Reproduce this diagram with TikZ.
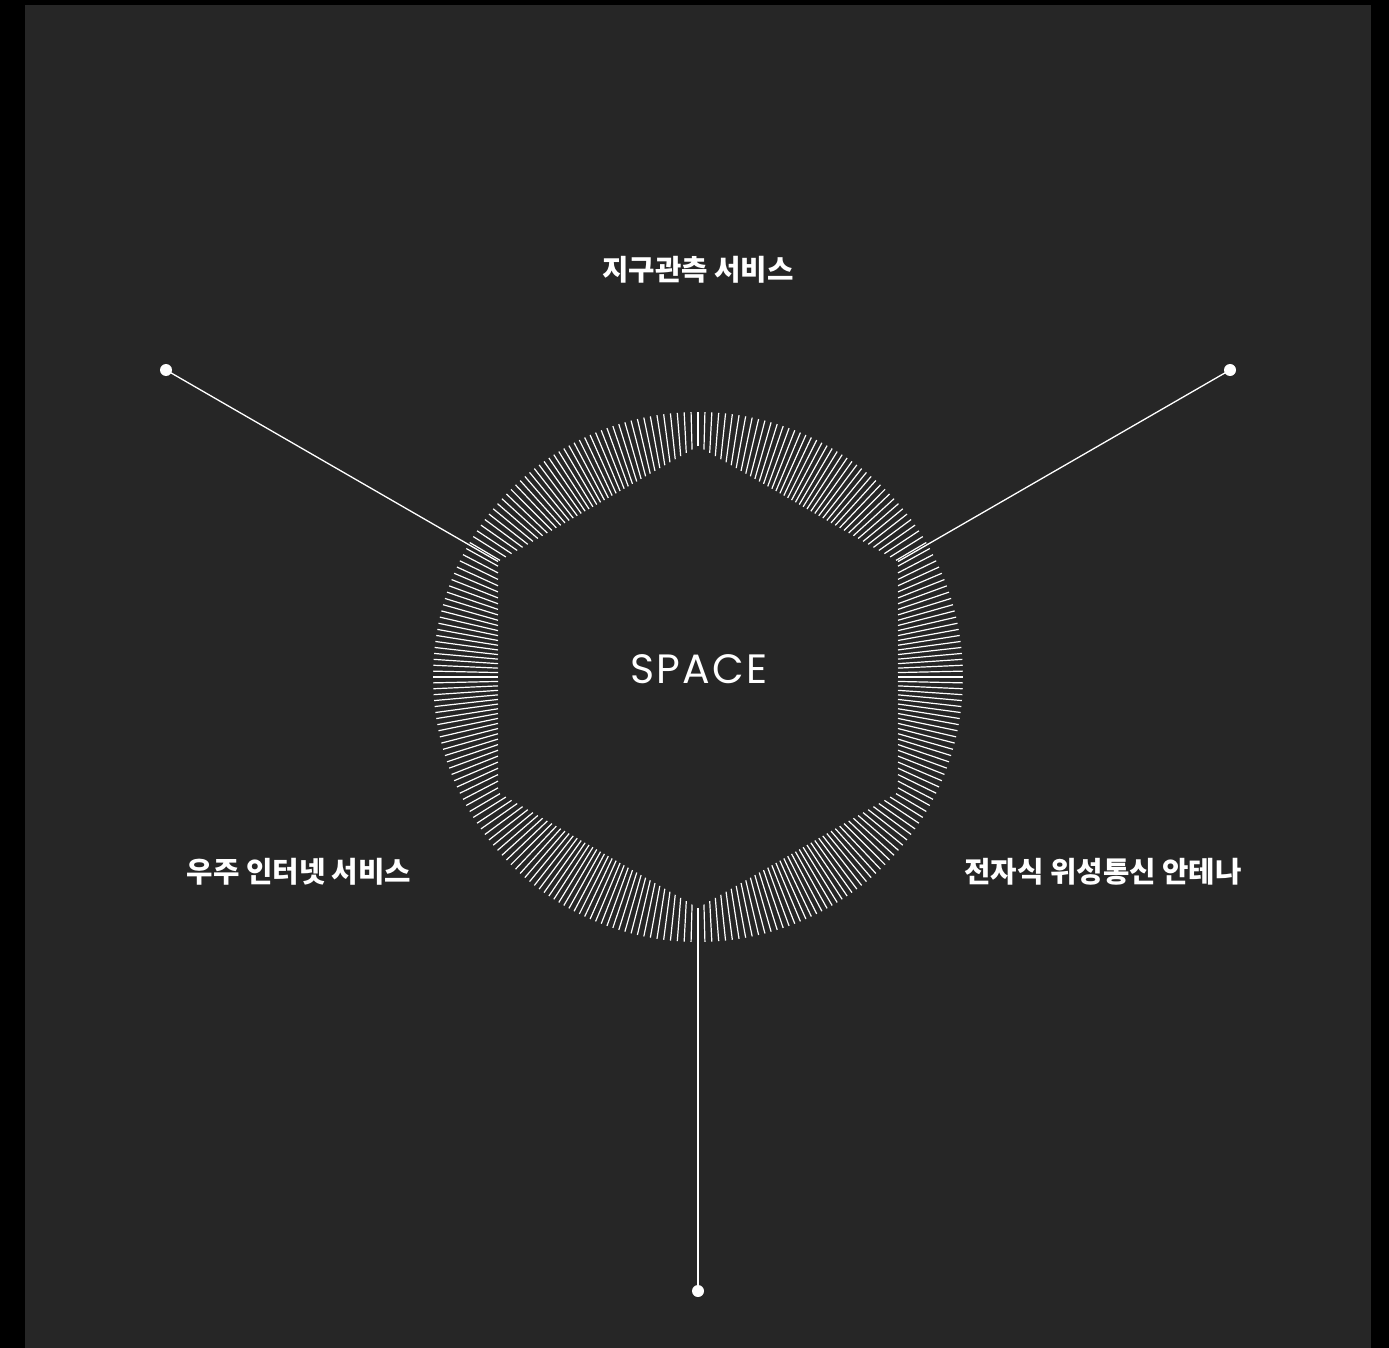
\documentclass[tikz,border=0pt]{standalone}
\usepackage{fontspec}
\newfontfamily\krfont{Noto Sans CJK KR}
\newfontfamily\spacefont[LetterSpace=6]{Poppins}
\usetikzlibrary{calc}
\definecolor{bgray}{HTML}{262626}
\tikzset{
  tick/.style={draw=white, line width=1.2pt},
  conn/.style={draw=white, line width=1.3pt},
  enddot/.style={circle, fill=white, inner sep=0pt, minimum size=12pt},
  label/.style={text=white, font=\krfont\bfseries\fontsize{28.7}{32}\selectfont, inner sep=0pt},
}
\begin{document}
\begin{tikzpicture}[x=1pt, y=-1pt]
\useasboundingbox (0,0) rectangle (1389,1348);
\fill[black] (0,0) rectangle (1389,1348);
\fill[bgray] (25,5) rectangle (1371,1348);
% centre
\node[text=white, font=\spacefont\fontsize{41}{45}\selectfont, inner sep=0pt] (c) at (699,669.5) {SPACE};
% radial ticks
\begin{scope}[shift={(698,677)}]
\foreach \i in {0,...,259} {
  \pgfmathsetmacro\ph{\i*1.3846154}
  \pgfmathsetmacro\th{\ph-0.79*sin(6*\ph)}
  \pgfmathsetmacro\rin{200/cos(mod(\th+30,60)-30)}
  \draw[tick] (\th:\rin) -- (\th:265);
}
\end{scope}
% hexagon vertices where connectors meet
\coordinate (vl) at (498,561.5);
\coordinate (vr) at (898,561.5);
\coordinate (vb) at (698,908);
% end dots
\node[enddot] (dl) at (166,370) {};
\node[enddot] (dr) at (1230,370) {};
\node[enddot] (db) at (698,1291) {};
\draw[conn] (dl.center) -- (vl);
\draw[conn] (dr.center) -- (vr);
\draw[conn] (db.center) -- (vb);
% labels
\node[label] (t1) at (698,270) {지구관측 서비스};
\node[label] (t2) at (299,872) {우주 인터넷 서비스};
\node[label] (t3) at (1103,872) {전자식 위성통신 안테나};
\end{tikzpicture}
\end{document}
